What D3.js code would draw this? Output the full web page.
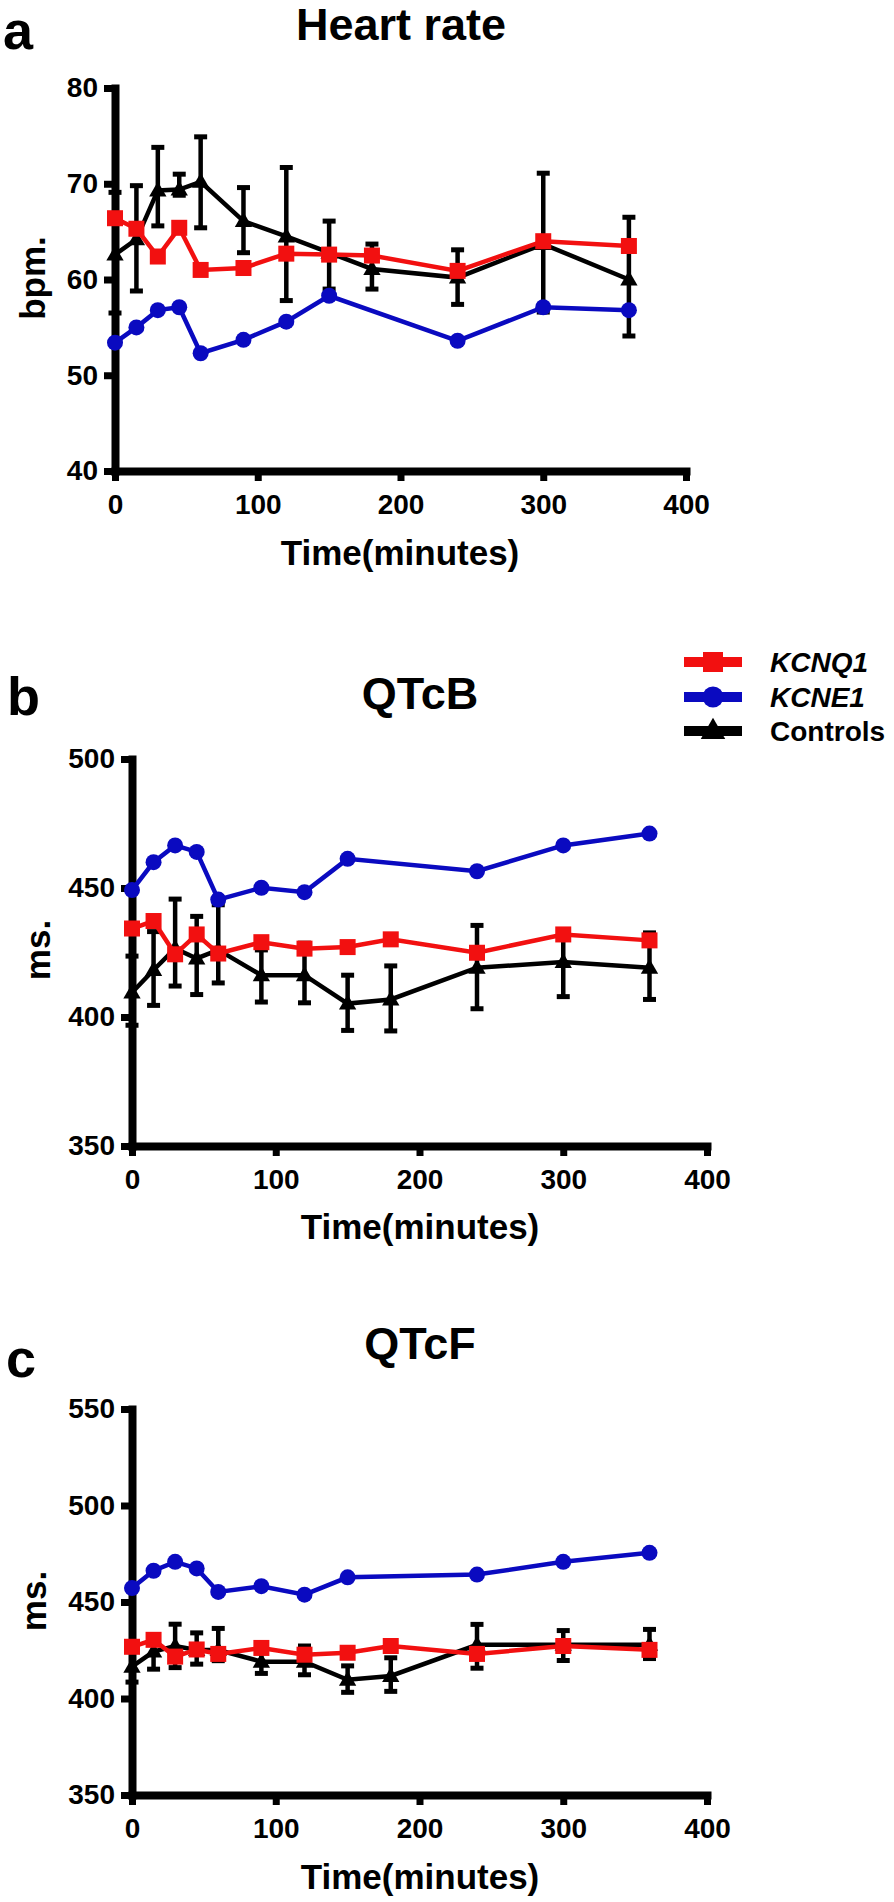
<!DOCTYPE html>
<html>
<head>
<meta charset="utf-8">
<script src="https://cdn.jsdelivr.net/npm/d3@7"></script>
<style>
  html, body { margin: 0; padding: 0; background: #fff; }
  svg { display: block; }
  text { font-family: "Liberation Sans", Arial, sans-serif; font-weight: bold; fill: #000; }
</style>
</head>
<body>
<svg id="chart" width="894" height="1902"></svg>
<script>
// ---------- data ----------
const times = [0, 15, 30, 45, 60, 90, 120, 150, 180, 240, 300, 360];
const timesKCNE1 = [0, 15, 30, 45, 60, 90, 120, 150, 240, 300, 360];
const xTicks = [0, 100, 200, 300, 400];

// Heart rate (bpm)
const hrKCNQ1 = [66.4, 65.3, 62.4, 65.4, 61.0, 61.2, 62.7, 62.6, 62.5, 60.9, 64.0, 63.5];
const hrKCNE1 = [53.4, 55.0, 56.8, 57.1, 52.3, 53.7, 55.6, 58.3, 53.6, 57.1, 56.8];
const hrControls = [62.6, 64.2, 69.3, 69.4, 70.2, 66.1, 64.5, 62.8, 61.1, 60.2, 63.7, 60.0];
const hrControlsLo = [56.5, 58.8, 65.6, 68.8, 65.4, 62.8, 57.8, 59.0, 59.0, 57.4, 56.6, 54.1];
const hrControlsHi = [69.1, 69.8, 73.8, 71.0, 74.9, 69.6, 71.7, 66.1, 63.7, 63.1, 71.1, 66.5];
const hrTicks = [40, 50, 60, 70, 80];

// QTcB (ms)
const qtcbKCNQ1 = [434.3, 437.2, 424.3, 432.0, 424.6, 429.0, 426.5, 427.1, 430.1, 424.9, 432.0, 429.7];
const qtcbKCNE1 = [449.2, 460.0, 466.5, 464.0, 445.5, 450.1, 448.4, 461.3, 456.5, 466.5, 471.1];
const qtcbControls = [409.5, 418.2, 426.6, 422.7, 426.0, 416.2, 416.2, 405.2, 406.8, 419.1, 421.3, 419.1];
const qtcbControlsLo = [396.8, 404.5, 412.0, 408.7, 413.2, 405.8, 405.5, 394.8, 394.6, 403.2, 407.9, 406.8];
const qtcbControlsHi = [423.6, 433.1, 445.7, 439.0, 443.5, 426.0, 428.6, 416.2, 419.8, 435.5, 433.5, 432.6];
const qtcbTicks = [350, 400, 450, 500];

// QTcF (ms)
const qtcfKCNQ1 = [426.8, 430.4, 421.7, 425.4, 423.1, 426.2, 422.7, 423.7, 427.2, 423.1, 427.2, 425.2];
const qtcfKCNE1 = [457.2, 466.2, 470.8, 467.4, 455.2, 458.2, 453.8, 462.8, 464.2, 470.8, 475.5];
const qtcfControls = [416.5, 424.3, 427.2, 425.1, 425.1, 419.1, 419.1, 409.7, 411.7, 427.8, 427.8, 427.8];
const qtcfControlsLo = [408.5, 415.2, 416.0, 417.8, 419.6, 413.0, 412.3, 403.2, 403.7, 415.7, 419.7, 420.7];
const qtcfControlsHi = [424.5, 433.0, 438.5, 434.0, 436.3, 424.0, 427.2, 416.9, 421.1, 438.4, 435.2, 435.8];
const qtcfTicks = [350, 400, 450, 500, 550];

const legendNames = ["KCNQ1", "KCNE1", "Controls"];
const legendItalic = [true, true, false];

// ---------- styles ----------
const RED = "#f21010", BLUE = "#0a0ac0", BLACK = "#000";

const svg = d3.select("#chart");
svg.append("rect").attr("width", 894).attr("height", 1902).attr("fill", "#fff");

const panels = [
  { letter: "a", title: "Heart rate", ylabel: "bpm.", ticks: hrTicks,
    kcnq1: hrKCNQ1, kcne1: hrKCNE1, ctl: hrControls, lo: hrControlsLo, hi: hrControlsHi,
    xr: [115, 686], yr: [471, 88],
    letterPos: [3, 49], titlePos: [401, 40], ylabPos: [45, 278], xlabPos: [400, 565] },
  { letter: "b", title: "QTcB", ylabel: "ms.", ticks: qtcbTicks,
    kcnq1: qtcbKCNQ1, kcne1: qtcbKCNE1, ctl: qtcbControls, lo: qtcbControlsLo, hi: qtcbControlsHi,
    xr: [132, 707], yr: [1146, 759],
    letterPos: [7, 715], titlePos: [420, 709], ylabPos: [50, 950], xlabPos: [420, 1239] },
  { letter: "c", title: "QTcF", ylabel: "ms.", ticks: qtcfTicks,
    kcnq1: qtcfKCNQ1, kcne1: qtcfKCNE1, ctl: qtcfControls, lo: qtcfControlsLo, hi: qtcfControlsHi,
    xr: [132, 707], yr: [1795, 1409],
    letterPos: [6, 1377], titlePos: [420, 1359], ylabPos: [46, 1601], xlabPos: [420, 1889] }
];

const sym = (type, size) => d3.symbol().type(type).size(size)();

panels.forEach(p => {
  const x = d3.scaleLinear().domain([0, 400]).range(p.xr);
  const y = d3.scaleLinear().domain([p.ticks[0], p.ticks[p.ticks.length - 1]]).range(p.yr);
  const g = svg.append("g");

  // panel letter & title
  g.append("text").attr("x", p.letterPos[0]).attr("y", p.letterPos[1])
    .attr("font-size", 54).text(p.letter);
  g.append("text").attr("x", p.titlePos[0]).attr("y", p.titlePos[1])
    .attr("text-anchor", "middle").attr("font-size", 45).text(p.title);

  // axes
  const ax = g.append("g").attr("transform", `translate(0,${p.yr[0]})`)
    .call(d3.axisBottom(x).tickValues(xTicks).tickSize(10).tickSizeOuter(0).tickPadding(13));
  const ay = g.append("g").attr("transform", `translate(${p.xr[0]},0)`)
    .call(d3.axisLeft(y).tickValues(p.ticks).tickSize(11).tickSizeOuter(0).tickPadding(6));
  [ax, ay].forEach(a => {
    a.select(".domain").attr("stroke", "#000").attr("stroke-width", 8).attr("stroke-linecap", "square");
    a.selectAll(".tick line").attr("stroke", "#000").attr("stroke-width", 7);
    a.selectAll(".tick text").attr("font-size", 28).attr("font-family", "'Liberation Sans', Arial, sans-serif")
      .attr("font-weight", "bold").attr("fill", "#000");
  });

  // axis labels
  g.append("text").attr("x", p.xlabPos[0]).attr("y", p.xlabPos[1])
    .attr("text-anchor", "middle").attr("font-size", 35).text("Time(minutes)");
  g.append("text").attr("transform", `translate(${p.ylabPos[0]},${p.ylabPos[1]}) rotate(-90)`)
    .attr("text-anchor", "middle").attr("font-size", 35).text(p.ylabel);

  const line = d3.line().x(d => x(d[0])).y(d => y(d[1]));

  // Controls (black) with error bars
  const ctl = times.map((t, i) => [t, p.ctl[i], p.lo[i], p.hi[i]]);
  const eb = g.append("g");
  ctl.forEach(d => {
    eb.append("line").attr("x1", x(d[0])).attr("x2", x(d[0])).attr("y1", y(d[2])).attr("y2", y(d[3]))
      .attr("stroke", BLACK).attr("stroke-width", 4.5);
    [d[2], d[3]].forEach(v => {
      eb.append("line").attr("x1", x(d[0]) - 6.5).attr("x2", x(d[0]) + 6.5).attr("y1", y(v)).attr("y2", y(v))
        .attr("stroke", BLACK).attr("stroke-width", 5);
    });
  });
  g.append("path").datum(ctl).attr("d", line).attr("fill", "none").attr("stroke", BLACK).attr("stroke-width", 4.5);
  g.selectAll(null).data(ctl).enter().append("path")
    .attr("transform", d => `translate(${x(d[0])},${y(d[1]) + 1})`)
    .attr("d", sym(d3.symbolTriangle, 130)).attr("fill", BLACK);

  // KCNE1 (blue circles)
  const ke = timesKCNE1.map((t, i) => [t, p.kcne1[i]]);
  g.append("path").datum(ke).attr("d", line).attr("fill", "none").attr("stroke", BLUE).attr("stroke-width", 4.5);
  g.selectAll(null).data(ke).enter().append("circle")
    .attr("cx", d => x(d[0])).attr("cy", d => y(d[1])).attr("r", 8).attr("fill", BLUE);

  // KCNQ1 (red squares)
  const kq = times.map((t, i) => [t, p.kcnq1[i]]);
  g.append("path").datum(kq).attr("d", line).attr("fill", "none").attr("stroke", RED).attr("stroke-width", 4.5);
  g.selectAll(null).data(kq).enter().append("rect")
    .attr("x", d => x(d[0]) - 8).attr("y", d => y(d[1]) - 8).attr("width", 16).attr("height", 16).attr("fill", RED);
});

// ---------- legend ----------
const leg = svg.append("g");
const legColors = [RED, BLUE, BLACK];
const legY = [662, 697, 731];
legendNames.forEach((name, i) => {
  const yy = legY[i], x0 = 684, x1 = 742, xm = (x0 + x1) / 2;
  leg.append("line").attr("x1", x0).attr("x2", x1).attr("y1", yy).attr("y2", yy)
    .attr("stroke", legColors[i]).attr("stroke-width", 10);
  if (i === 0) {
    leg.append("rect").attr("x", xm - 10).attr("y", yy - 10).attr("width", 20).attr("height", 20).attr("fill", RED);
  } else if (i === 1) {
    leg.append("circle").attr("cx", xm).attr("cy", yy).attr("r", 10.5).attr("fill", BLUE);
  } else {
    leg.append("path").attr("transform", `translate(${xm},${yy + 1})`)
      .attr("d", sym(d3.symbolTriangle, 260)).attr("fill", BLACK);
  }
  leg.append("text").attr("x", 770).attr("y", yy + 10).attr("font-size", 28)
    .attr("font-style", legendItalic[i] ? "italic" : "normal").text(name);
});
</script>
</body>
</html>
